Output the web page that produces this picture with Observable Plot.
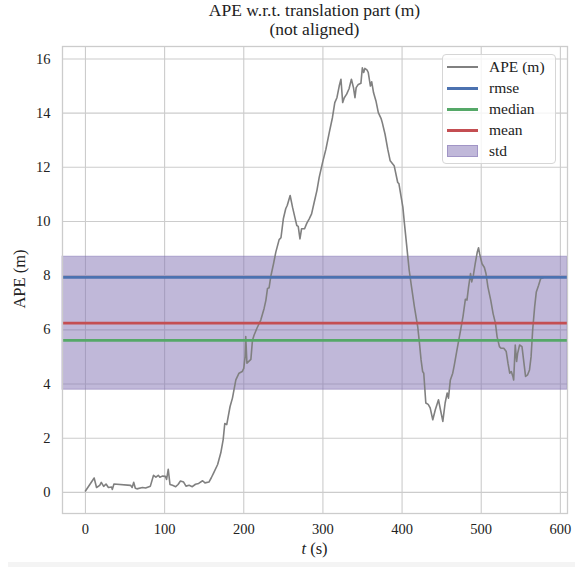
<!DOCTYPE html>
<html>
<head>
<meta charset="utf-8">
<script src="https://cdn.jsdelivr.net/npm/d3@7"></script>
<script src="https://cdn.jsdelivr.net/npm/@observablehq/plot@0.6"></script>
<style>
  html, body { margin: 0; padding: 0; background: #fff; }
  body { width: 575px; height: 567px; position: relative; overflow: hidden; font-family: "Liberation Serif", "DejaVu Serif", serif; color: #222; }
  #title { position: absolute; left: 62px; width: 505px; top: 1px; text-align: center; font-size: 17.5px; line-height: 19px; }
  #chart { position: absolute; left: 0; top: 44px; }
  #xlabel { position: absolute; left: 62px; width: 505px; top: 539px; text-align: center; font-size: 16.5px; }
  #ylabel { position: absolute; left: 20px; top: 279px; transform: translate(-50%, -50%) rotate(-90deg); font-size: 16.5px; white-space: nowrap; }
  #legend { position: absolute; left: 442px; top: 54px; width: 114px; height: 110px; box-sizing: border-box;
            border: 1px solid #d6d6d6; border-radius: 4px; background: rgba(255,255,255,0.8); font-size: 15.5px; }
  .row { position: absolute; left: 4px; height: 20px; width: 110px; }
  .sw { position: absolute; left: 0; width: 31px; }
  .lab { position: absolute; left: 42px; top: 0; line-height: 20px; white-space: nowrap; }
  #strip { position: absolute; left: 8px; right: 0; top: 562px; height: 5px; background: #f4f4f4; }
</style>
</head>
<body>
<div id="title">APE w.r.t. translation part (m)<br>(not aligned)</div>
<div id="chart"></div>
<div id="ylabel">APE (m)</div>
<div id="xlabel"><i>t</i> (s)</div>
<div id="legend"></div>
<div id="strip"></div>
<script>
// ---- data ----
const times = [0,11,14,18,20,23,26,29,33,34,36,57,59,61,63,65,72,76,82,86,89,92,94,97,101,102.5,104.6,106.8,110,114,117,120,124,127,131,135,139,143,148,151,156,159,162,167,171,174,176,178.5,182.7,185.7,190,194,198,200,201.7,202.5,204,205,209,211,213,216.5,221.5,225.7,228,230,232,234,237.6,240.5,244.7,247,250,253,255,258.6,261.6,264.5,267,268.8,271,273,276.8,279.7,282.7,285.7,289,292.4,295.3,299.6,303.8,308,312,315,317.7,320.6,322.8,325,327,330,333,336,338.6,340.5,342,344.7,348,349.8,351.5,353,355.6,357.3,360,361.6,364,367,370,373.4,375,378.5,381.9,385,390,394.5,396,401,403,406,409,412,415.6,419.8,422,424,426,427.4,430,433,435.5,438.8,442,446,448.5,451.5,454.4,457,458.6,461,464,466,469.6,474,477,480,482,484,486.5,488,490,492.4,495,496.6,498,501,504,506,508.5,512,515,518,520,523,525,528.5,531.6,533.8,536,538,540,541,543,544.7,546,548.5,551.5,554,556,558.6,561,563,565,567.5,569.6,572.5,575,578];
const apeValues = [0.05,0.53,0.18,0.26,0.37,0.22,0.31,0.18,0.2,0.11,0.31,0.26,0.18,0.37,0.15,0.13,0.18,0.16,0.23,0.63,0.56,0.63,0.56,0.6,0.59,0.48,0.85,0.29,0.26,0.21,0.29,0.42,0.38,0.23,0.26,0.21,0.3,0.33,0.43,0.35,0.38,0.54,0.72,1.03,1.46,1.95,2.54,2.5,3.17,3.48,4.15,4.4,4.46,4.58,5.01,5.75,4.77,4.8,4.91,5.62,5.8,6.05,6.36,6.79,7.1,7.53,7.55,7.95,8.44,8.87,9.33,9.4,10.1,10.47,10.6,10.96,10.53,10.16,9.85,9.82,9.36,9.73,9.73,9.94,10.1,10.28,10.71,11.14,11.63,12.18,12.67,13.28,13.83,14.39,14.57,15.0,15.25,14.39,14.57,14.7,14.9,15.25,14.94,14.57,14.94,15.06,15.1,15.67,15.5,15.65,15.6,15.5,15.0,15.16,14.75,14.45,14.02,13.81,13.65,13.22,12.67,12.24,12.06,11.44,11.4,10.53,9.92,9.06,8.2,7.58,6.85,6.11,5.5,4.89,4.46,4.4,3.3,3.25,3.12,2.68,3.05,3.42,3.05,2.62,3.3,3.67,3.48,4.15,4.4,4.7,5.3,6.0,6.5,7.13,7.1,7.58,8.08,7.77,8.0,8.44,8.87,9.03,8.8,8.44,8.3,8.08,7.58,7.1,6.6,6.24,5.75,5.38,5.32,5.32,5.2,4.77,4.4,4.46,4.28,4.15,5.44,4.83,5.13,5.44,5.38,4.77,4.28,4.34,4.52,5.01,6.0,6.85,7.4,7.65,7.89,7.92];
const statNames = ["rmse", "median", "mean"];
const statValues = [7.94, 5.61, 6.245];
const stdValue = 4.91;
const xTicks = [0, 100, 200, 300, 400, 500, 600];
const yTicks = [0, 2, 4, 6, 8, 10, 12, 14, 16];
const legendLabels = ["APE (m)", "rmse", "median", "mean", "std"];

// ---- styles ----
const lineColor = "#808080";
const statColors = ["#4C72B0", "#55A868", "#C44E52"];
const stdColor = "#8172B3";

const series = times.map((t, i) => ({t, v: apeValues[i]}));
const stats = statNames.map((name, i) => ({name, value: statValues[i], color: statColors[i]}));
const meanVal = statValues[2];
const band = [{lo: meanVal - stdValue / 2, hi: meanVal + stdValue / 2}];

const chart = Plot.plot({
  width: 575,
  height: 523,
  marginLeft: 62,
  marginRight: 8,
  marginTop: 2,
  marginBottom: 54,
  style: {fontFamily: "'Liberation Serif', 'DejaVu Serif', serif", fontSize: "14.5px", color: "#222", background: "transparent"},
  x: {domain: [-29, 609], ticks: xTicks, tickSize: 0, tickPadding: 10, label: null},
  y: {domain: [-0.78, 16.46], ticks: yTicks, tickSize: 0, tickPadding: 12, label: null},
  marks: [
    Plot.ruleX(xTicks, {x: d => d, stroke: "#cccccc", strokeWidth: 1.1}),
    Plot.ruleY(yTicks, {y: d => d, stroke: "#cccccc", strokeWidth: 1.1}),
    Plot.rect(band, {y1: "lo", y2: "hi", fill: stdColor, fillOpacity: 0.5, stroke: stdColor, strokeOpacity: 0.5, strokeWidth: 1}),
    Plot.line(series, {x: "t", y: "v", stroke: lineColor, strokeWidth: 1.6}),
    Plot.ruleY(stats, {y: "value", stroke: "color", strokeWidth: 2.8}),
    Plot.frame({stroke: "#cccccc", strokeWidth: 1.3})
  ]
});
document.getElementById("chart").appendChild(chart);

// ---- legend ----
const legend = document.getElementById("legend");
const legendColors = [lineColor, ...statColors, stdColor];
legendLabels.forEach((lab, i) => {
  const row = document.createElement("div");
  row.className = "row";
  row.style.top = (2 + i * 21) + "px";
  const sw = document.createElement("div");
  sw.className = "sw";
  if (i < 4) {
    sw.style.top = "9px";
    sw.style.height = i === 0 ? "1.6px" : "2.8px";
    sw.style.background = legendColors[i];
  } else {
    sw.style.top = "4px";
    sw.style.height = "12px";
    sw.style.background = "rgba(129,114,179,0.5)";
    sw.style.boxSizing = "border-box";
    sw.style.border = "1px solid rgba(129,114,179,0.5)";
  }
  const t = document.createElement("div");
  t.className = "lab";
  t.textContent = lab;
  row.appendChild(sw);
  row.appendChild(t);
  legend.appendChild(row);
});
</script>
</body>
</html>
